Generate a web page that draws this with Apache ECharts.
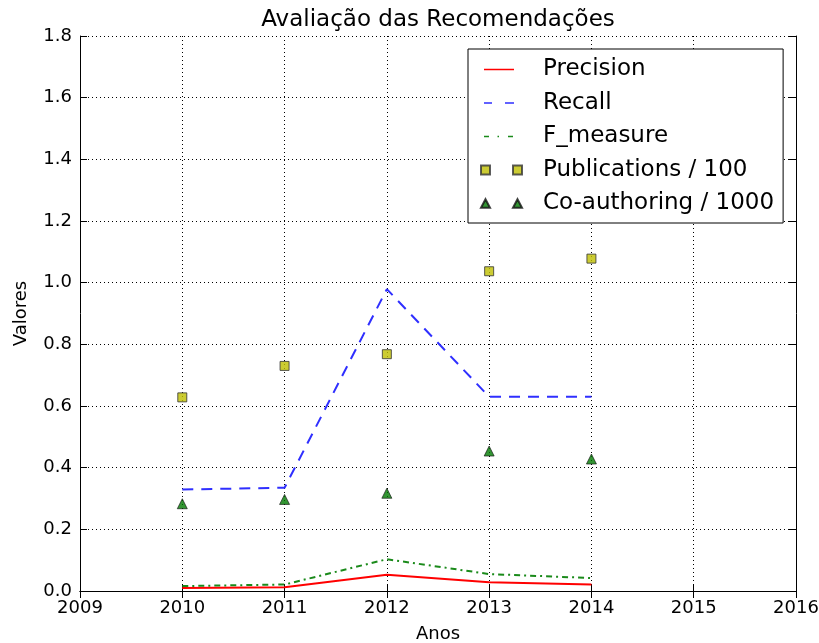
<!DOCTYPE html>
<html>
<head>
<meta charset="utf-8">
<script src="https://cdn.jsdelivr.net/npm/echarts@6/dist/echarts.min.js"></script>
<style>
  html, body { margin: 0; padding: 0; background: #fff; }
  #chart { width: 819px; height: 643px; }
</style>
</head>
<body>
<div id="chart"></div>
<script>
// data
const years = [2010, 2011, 2012, 2013, 2014]
const precision = [0.010, 0.012, 0.053, 0.028, 0.021]
const recall = [0.329, 0.335, 0.979, 0.630, 0.630]
const fMeasure = [0.016, 0.021, 0.103, 0.055, 0.042]
const publications = [0.628, 0.730, 0.768, 1.037, 1.078]
const coAuthoring = [0.283, 0.297, 0.317, 0.454, 0.428]

const font = 'DejaVu Sans'
const pair = (a, b) => a.map((v, i) => [v, b[i]])

// legend icons, 41x14 box (line ones get tiny corner specks to hold the box size)
const box = 'M0,0h0.05v0.05h-0.05z M40.95,13.95h0.05v0.05h-0.05z '
const icons = {
  precision: 'path://' + box + 'M3,6.25h30v1.5h-30z',
  recall: 'path://' + box + 'M3,6.25h8v1.5h-8z M24,6.25h9v1.5h-9z',
  fMeasure: 'path://' + box + 'M3,6.25h5v1.5h-5z M16.5,6.25h1.5v1.5h-1.5z M27,6.25h5v1.5h-5z',
  publications: 'path://M0,2.5h9v9h-9z M32,2.5h9v9h-9z',
  coAuthoring: 'path://M4.5,2.5L9,11L0,11z M36.5,2.5L41,11L32,11z'
}

const chart = echarts.init(document.getElementById('chart'))

const axisText = { color: '#000', fontFamily: font, fontSize: 18 }
const frame = { show: true, lineStyle: { color: '#000', width: 1 } }
const tick = { show: true, inside: true, length: 7, lineStyle: { color: '#000' } }

chart.setOption({
  animation: false,
  backgroundColor: '#fff',
  title: {
    text: 'Avaliação das Recomendações',
    left: 438, top: 9, textAlign: 'center', padding: 0,
    textStyle: { fontFamily: font, fontSize: 23, fontWeight: 'normal', color: '#000' }
  },
  grid: { left: 80, right: 23, top: 36, bottom: 52, outerBoundsMode: 'none' },
  legend: {
    orient: 'vertical', left: 468, top: 49,
    padding: [4, 9, 3, 12], itemGap: 0.5,
    itemWidth: 41, itemHeight: 14,
    backgroundColor: '#fff', borderColor: '#000', borderWidth: 1, borderRadius: 0,
    textStyle: { fontFamily: font, fontSize: 23, color: '#000', lineHeight: 33, padding: [0, 0, 0, 16] },
    data: [
      { name: 'Precision', icon: icons.precision },
      { name: 'Recall', icon: icons.recall },
      { name: 'F_measure', icon: icons.fMeasure },
      { name: 'Publications / 100', icon: icons.publications },
      { name: 'Co-authoring / 1000', icon: icons.coAuthoring }
    ]
  },
  xAxis: [{
    type: 'value', min: 2009, max: 2016, interval: 1,
    name: 'Anos', nameLocation: 'middle', nameGap: 34,
    nameTextStyle: axisText,
    axisLine: frame, axisTick: tick,
    axisLabel: { ...axisText, margin: 8, formatter: v => String(v) },
    splitLine: { show: true, lineStyle: { color: '#000', type: [1, 3], width: 1 } }
  }, {
    type: 'value', position: 'top', min: 2009, max: 2016, interval: 1,
    axisLine: frame, axisTick: tick, axisLabel: { show: false }, splitLine: { show: false }
  }],
  yAxis: [{
    type: 'value', min: 0, max: 1.8, interval: 0.2,
    name: 'Valores', nameLocation: 'middle', nameGap: 50,
    nameTextStyle: axisText,
    axisLine: frame, axisTick: tick,
    axisLabel: { ...axisText, margin: 8, formatter: v => v.toFixed(1) },
    splitLine: { show: true, lineStyle: { color: '#000', type: [1, 3], width: 1 } }
  }, {
    type: 'value', position: 'right', min: 0, max: 1.8, interval: 0.2,
    axisLine: frame, axisTick: tick, axisLabel: { show: false }, splitLine: { show: false }
  }],
  series: [
    {
      name: 'Precision', type: 'line', data: pair(years, precision),
      symbol: 'none', color: '#ff0000',
      lineStyle: { color: '#ff0000', width: 2 }
    },
    {
      name: 'Recall', type: 'line', data: pair(years, recall),
      symbol: 'none', color: '#2f2fff',
      lineStyle: { color: '#2f2fff', width: 2, type: [11, 8] }
    },
    {
      name: 'F_measure', type: 'line', data: pair(years, fMeasure),
      symbol: 'none', color: '#1a8a1a',
      lineStyle: { color: '#1a8a1a', width: 2, type: [6, 4, 2, 4] }
    },
    {
      name: 'Publications / 100', type: 'scatter', data: pair(years, publications),
      symbol: 'rect', symbolSize: 9,
      itemStyle: { color: '#bfbf00', borderColor: '#333', borderWidth: 1 }
    },
    {
      name: 'Co-authoring / 1000', type: 'scatter', data: pair(years, coAuthoring),
      symbol: 'triangle', symbolSize: 10,
      itemStyle: { color: '#007a00', borderColor: '#111', borderWidth: 0.8 }
    }
  ]
})
</script>
</body>
</html>
